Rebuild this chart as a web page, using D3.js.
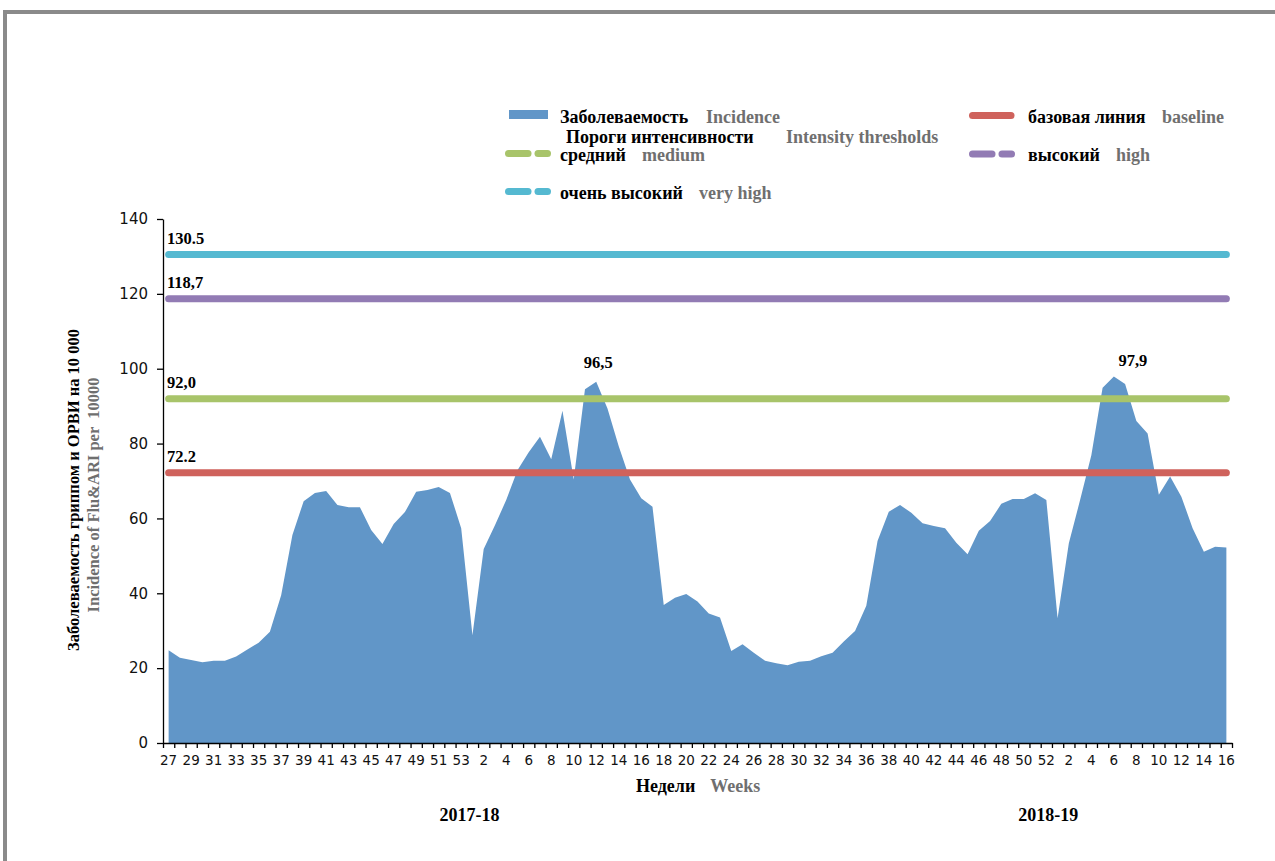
<!DOCTYPE html>
<html>
<head>
<meta charset="utf-8">
<script src="https://cdn.jsdelivr.net/npm/d3@7/dist/d3.min.js"></script>
<style>
  html, body { margin: 0; padding: 0; background: #fff; }
  svg { display: block; }
  .serif { font-family: "Liberation Serif", "Times New Roman", serif; font-weight: bold; }
</style>
</head>
<body>
<svg id="chart" width="1275" height="861"></svg>
<script>
// ---- data ----
const weeks = [27,28,29,30,31,32,33,34,35,36,37,38,39,40,41,42,43,44,45,46,47,48,49,50,51,52,53,
  1,2,3,4,5,6,7,8,9,10,11,12,13,14,15,16,17,18,19,20,21,22,23,24,25,26,27,28,29,30,31,32,33,34,35,36,37,38,39,40,41,42,43,44,45,46,47,48,49,50,51,52,
  1,2,3,4,5,6,7,8,9,10,11,12,13,14,15,16];
const incidence = [24.8,22.8,22.2,21.6,22.0,22.0,23.1,25.0,26.8,29.7,39.5,55.6,64.6,66.8,67.3,63.6,63.0,63.0,56.9,53.2,58.5,61.7,67.1,67.6,68.4,66.8,57.4,
  28.8,51.8,58.2,64.9,72.9,77.7,81.8,75.8,88.8,70.4,94.5,96.5,89.4,79.3,70.4,65.4,63.1,36.9,38.8,39.8,37.8,34.6,33.5,24.6,26.4,24.1,22.0,21.3,20.8,21.7,22.0,23.2,24.1,27.1,29.9,36.7,54.0,61.8,63.6,61.5,58.7,58.0,57.4,53.5,50.4,56.7,59.3,63.9,65.2,65.2,66.7,64.9,
  33.3,53.4,64.9,76.9,94.9,97.9,95.9,86.0,82.7,66.3,71.2,65.8,57.4,51.1,52.4,52.2];
const thresholdNames = ["baseline", "medium", "high", "veryHigh"];
const thresholdValues = [72.2, 92.0, 118.7, 130.5];
const thresholdLabels = ["72.2", "92,0", "118,7", "130.5"];
const peakLabels = ["96,5", "97,9"];
const peakWeekIndex = [38, 84];
const seasons = ["2017-18", "2018-19"];
const yTicks = [0, 20, 40, 60, 80, 100, 120, 140];

// ---- styles ----
const colors = { area: "#6196c8", baseline: "#cf625c", medium: "#a8c46a", high: "#927bb4", veryHigh: "#55b9d1" };
const gray = "#6f6f6f";

const svg = d3.select("#chart");

// frame
svg.append("path").attr("d", "M5,861 V12 H1275").attr("fill", "none").attr("stroke", "#8a8a8a").attr("stroke-width", 4);

const x = d3.scaleBand().domain(d3.range(weeks.length)).range([163, 1232]).padding(0);
const xc = i => x(i) + x.bandwidth() / 2;
const xb = d3.scaleLinear().domain([0, weeks.length]).range([163, 1232]);
const y = d3.scaleLinear().domain([0, 140]).range([743, 219]);

// area
const area = d3.area().x((d, i) => xc(i)).y0(y(0)).y1(d => y(d));
svg.append("path").datum(incidence).attr("d", area).attr("fill", colors.area);

// threshold lines
thresholdValues.forEach((v, k) => {
  svg.append("line")
    .attr("x1", xc(0)).attr("x2", xc(weeks.length - 1))
    .attr("y1", y(v)).attr("y2", y(v))
    .attr("stroke", colors[thresholdNames[k]]).attr("stroke-width", 7)
    .attr("stroke-linecap", "round");
  svg.append("text").attr("class", "serif")
    .attr("x", 167).attr("y", y(v) - 11)
    .attr("font-size", 16.5).attr("fill", "#000")
    .text(thresholdLabels[k]);
});

// peak labels
const peakDx = [2, 19];
const peakDy = [-14, -11];
peakLabels.forEach((t, k) => {
  const i = peakWeekIndex[k];
  svg.append("text").attr("class", "serif")
    .attr("x", xc(i) + peakDx[k]).attr("y", y(incidence[i]) + peakDy[k])
    .attr("text-anchor", "middle").attr("font-size", 16.5).attr("fill", "#000")
    .text(t);
});

// y axis
const yAxis = d3.axisLeft(y).tickValues(yTicks).tickSize(6).tickSizeOuter(0).tickPadding(9);
const gy = svg.append("g").attr("transform", "translate(163,0)").call(yAxis);
gy.selectAll("text").attr("font-family", "DejaVu Sans, Verdana, sans-serif").attr("font-size", 15).attr("fill", "#111");
gy.selectAll("line, path").attr("stroke", "#000").attr("stroke-width", 1.3);

// x axis minor ticks at category boundaries
const xAxisTicks = d3.axisBottom(xb).tickValues(d3.range(weeks.length + 1)).tickSize(5).tickSizeOuter(0).tickFormat("");
const gxt = svg.append("g").attr("transform", "translate(0,743)").call(xAxisTicks);
gxt.selectAll("line, path").attr("stroke", "#000").attr("stroke-width", 1.3);

// x axis labels
const xAxis = d3.axisBottom(x).tickValues(d3.range(0, weeks.length, 2)).tickSize(0).tickPadding(12).tickFormat(i => weeks[i]);
const gx = svg.append("g").attr("transform", "translate(0,743)").call(xAxis);
gx.select(".domain").remove();
gx.selectAll("text").attr("font-family", "DejaVu Sans, Verdana, sans-serif").attr("font-size", 13.5).attr("fill", "#111");

// axis titles
const yt = svg.append("g").attr("transform", "translate(79,490) rotate(-90)");
yt.append("text").attr("class", "serif").attr("text-anchor", "middle").attr("font-size", 16.5).attr("fill", "#000")
  .text("Заболеваемость гриппом и ОРВИ на 10 000");
yt.append("text").attr("class", "serif").attr("text-anchor", "middle").attr("x", -5).attr("y", 20).attr("font-size", 16.5).attr("fill", gray)
  .attr("xml:space", "preserve")
  .text("Incidence of Flu&ARI per  10000");

const xt = svg.append("text").attr("class", "serif").attr("x", 636).attr("y", 792).attr("font-size", 18);
xt.append("tspan").attr("fill", "#000").text("Недели");
xt.append("tspan").attr("fill", gray).attr("dx", 15).text("Weeks");

// season labels
const seasonIdx = [27, 78];
const seasonDx = [-3, 2];
seasons.forEach((s, k) => {
  svg.append("text").attr("class", "serif").attr("text-anchor", "middle")
    .attr("x", xc(seasonIdx[k]) + seasonDx[k]).attr("y", 821).attr("font-size", 18).attr("fill", "#000").text(s);
});

// legend
const lg = svg.append("g");
function legText(xp, yp, black, grey, gx2) {
  const t = lg.append("text").attr("class", "serif").attr("x", xp).attr("y", yp).attr("font-size", 18);
  t.append("tspan").attr("fill", "#000").text(black);
  t.append("tspan").attr("fill", gray).attr("x", gx2).text(grey);
}
function legDash(x1, yp, color, dashed) {
  if (dashed) {
    [[x1 + 3.5, x1 + 23], [x1 + 33, x1 + 42.5]].forEach(([a, b]) => {
      lg.append("line").attr("x1", a).attr("x2", b).attr("y1", yp).attr("y2", yp)
        .attr("stroke", color).attr("stroke-width", 7).attr("stroke-linecap", "round");
    });
  } else {
    lg.append("line").attr("x1", x1 + 3.5).attr("x2", x1 + 42).attr("y1", yp).attr("y2", yp)
      .attr("stroke", color).attr("stroke-width", 7).attr("stroke-linecap", "round");
  }
}
lg.append("rect").attr("x", 509).attr("y", 110).attr("width", 39).attr("height", 9).attr("fill", colors.area);
legText(560, 123, "Заболеваемость", "Incidence", 706);
legText(566, 143, "Пороги интенсивности", "Intensity thresholds", 786);
legDash(505, 153.5, colors.medium, true);
legText(560, 161, "средний", "medium", 642);
legDash(505, 191.5, colors.veryHigh, true);
legText(560, 199, "очень высокий", "very high", 699);
legDash(969, 115.5, colors.baseline, false);
legText(1028, 123, "базовая линия", "baseline", 1162);
legDash(969, 154, colors.high, true);
legText(1028, 161, "высокий", "high", 1116);
</script>
</body>
</html>
